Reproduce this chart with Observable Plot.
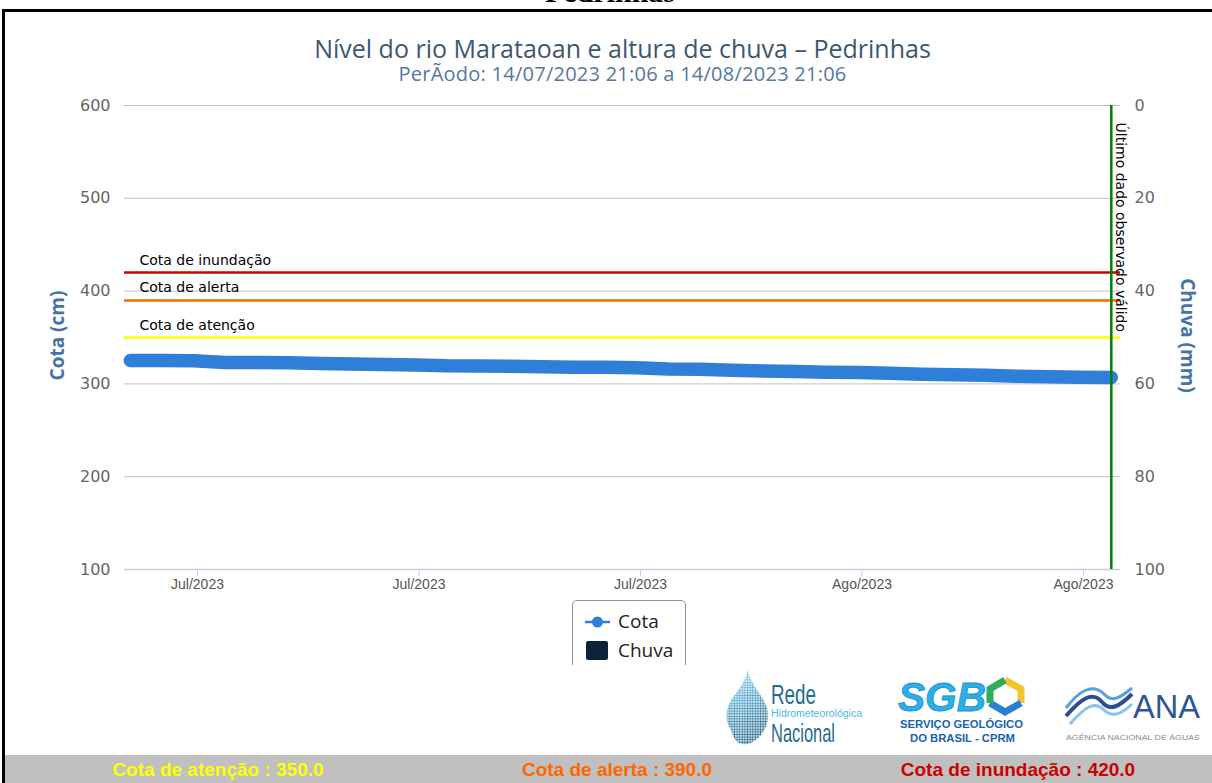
<!DOCTYPE html>
<html>
<head>
<meta charset="utf-8">
<script src="https://cdn.jsdelivr.net/npm/d3@7"></script>
<script src="https://cdn.jsdelivr.net/npm/@observablehq/plot@0.6"></script>
<style>
html,body{margin:0;padding:0;background:#fff;}
#page{position:relative;width:1212px;height:783px;overflow:hidden;font-family:"Open Sans",sans-serif;}
#top{position:absolute;left:0;width:1220px;top:-23px;text-align:center;font:bold 30px/1 "Liberation Serif",serif;color:#000;}
#bTop{position:absolute;left:2px;top:9px;width:1210px;height:3px;background:#000;}
#bLeft{position:absolute;left:2px;top:9px;width:3px;height:774px;background:#000;}
#title{position:absolute;left:0;width:1245px;top:36px;height:24px;text-align:center;font-size:25px;line-height:24px;color:#3E576F;white-space:nowrap;}
#subtitle{position:absolute;left:0;width:1245px;top:65px;height:18px;text-align:center;font-size:20px;line-height:18px;letter-spacing:0.25px;color:#5578A2;white-space:nowrap;}
#chart{position:absolute;left:0;top:90px;}
#legendClip{position:absolute;left:572px;top:600px;width:116px;height:65px;overflow:hidden;}
#legend{position:absolute;left:0;top:0;width:112px;height:90px;border:1px solid #909090;border-radius:5px;background:#fff;}
.li{position:absolute;left:45px;font-size:19px;line-height:1;color:#222;}
#bar{position:absolute;left:5px;top:755px;width:1207px;height:28px;background:#C0C0C0;}
.bt{position:absolute;top:5px;width:400px;margin-left:-200px;text-align:center;font:bold 19px/1 "Liberation Sans",Arial,sans-serif;white-space:nowrap;}
#deco{position:absolute;left:0;top:0;}
</style>
</head>
<body>
<div id="page">
  <div id="top">Pedrinhas</div>
  <div id="bTop"></div>
  <div id="bLeft"></div>
  <div id="title">Nível do rio Marataoan e altura de chuva – Pedrinhas</div>
  <div id="subtitle">PerÃodo: 14/07/2023 21:06 a 14/08/2023 21:06</div>
  <div id="chart"></div>
  <div id="legendClip"><div id="legend">
    <svg width="40" height="80" style="position:absolute;left:0;top:0">
      <line x1="12" y1="21" x2="37" y2="21" stroke="#2F7ED8" stroke-width="2.5"/>
      <circle cx="24.5" cy="21" r="5.5" fill="#2F7ED8"/>
      <rect x="13" y="40" width="22" height="19" rx="2" fill="#0d233a"/>
    </svg>
    <div class="li" style="top:11px">Cota</div>
    <div class="li" style="top:40px">Chuva</div>
  </div></div>
  <svg id="deco" width="1212" height="783">
    <defs>
      <pattern id="dots" width="2.6" height="2.6" patternUnits="userSpaceOnUse">
        <circle cx="1.3" cy="1.3" r="1.05" fill="#fff"/>
      </pattern>
      <linearGradient id="dropg" x1="0" y1="0" x2="0.3" y2="1">
        <stop offset="0" stop-color="#a8def5"/>
        <stop offset="0.45" stop-color="#3f9ec9"/>
        <stop offset="1" stop-color="#17607f"/>
      </linearGradient>
      <mask id="dm"><rect x="700" y="660" width="100" height="100" fill="url(#dots)"/></mask>
    </defs>
    <!-- Rede Hidrometeorológica Nacional -->
    <path d="M748,670 C752,690 770,700 768,718 C766,735 752,746 742,744 C734,742 733,735 730,728 C724,720 726,706 734,696 C740,688 745,680 748,670 Z" fill="url(#dropg)" mask="url(#dm)"/>
    <text x="771" y="704" font-family="Liberation Sans" font-size="27" fill="#1f6c95" textLength="45" lengthAdjust="spacingAndGlyphs">Rede</text>
    <text x="771" y="717" font-family="Liberation Sans" font-size="10" fill="#4ab8e8" textLength="91" lengthAdjust="spacingAndGlyphs">Hidrometeorológica</text>
    <text x="771" y="742" font-family="Liberation Sans" font-size="25" fill="#1f6c95" textLength="64" lengthAdjust="spacingAndGlyphs">Nacional</text>
    <!-- SGB -->
    <text x="898" y="711" font-family="Liberation Sans" font-weight="bold" font-style="italic" font-size="40" fill="#2ab0e6" stroke="#1c8fd0" stroke-width="0.8" textLength="88" lengthAdjust="spacingAndGlyphs">SGB</text>
    <polyline points="1005,680 1021,689 1021,703" fill="none" stroke="#f4c52a" stroke-width="7"/>
    <polyline points="1021,703 1005,712 990,703" fill="none" stroke="#2a7fd0" stroke-width="7"/>
    <polyline points="990,703 990,689 1005,680" fill="none" stroke="#2fae58" stroke-width="7"/>
    <text x="900" y="728" font-family="Liberation Sans" font-weight="bold" font-size="10.5" fill="#1a5fb4" textLength="123" lengthAdjust="spacingAndGlyphs">SERVIÇO GEOLÓGICO</text>
    <text x="910" y="742" font-family="Liberation Sans" font-weight="bold" font-size="10.5" fill="#1a5fb4" textLength="105" lengthAdjust="spacingAndGlyphs">DO BRASIL - CPRM</text>
    <!-- ANA -->
    <path d="M1066,716 C1080,700 1092,690 1102,702 C1110,712 1120,706 1132,694" fill="none" stroke="#2b4f92" stroke-width="4"/>
    <path d="M1066,708 C1078,692 1092,682 1104,694 C1112,703 1120,698 1132,688" fill="none" stroke="#5aa0d8" stroke-width="3"/>
    <path d="M1070,724 C1084,708 1094,700 1104,710 C1112,718 1122,714 1132,704" fill="none" stroke="#8cc3ea" stroke-width="3"/>
    <text x="1133" y="718" font-family="Liberation Sans" font-size="34" fill="#2f5597" textLength="67" lengthAdjust="spacingAndGlyphs">ANA</text>
    <text x="1066" y="740" font-family="Liberation Sans" font-size="8" fill="#8a8a8a" textLength="134" lengthAdjust="spacingAndGlyphs">AGÊNCIA NACIONAL DE ÁGUAS</text>
  </svg>
  <div id="bar">
    <div class="bt" style="left:213px;color:#FFFF00">Cota de atenção : 350.0</div>
    <div class="bt" style="left:612px;color:#FF6600">Cota de alerta : 390.0</div>
    <div class="bt" style="left:1013px;color:#CC0000">Cota de inundação : 420.0</div>
  </div>
</div>
<script>
// ---- data ----
const cotaDates = [
  "2023-07-14T21:06Z","2023-07-15T21:06Z","2023-07-16T21:06Z","2023-07-17T21:06Z",
  "2023-07-18T21:06Z","2023-07-19T21:06Z","2023-07-20T21:06Z","2023-07-21T21:06Z",
  "2023-07-22T21:06Z","2023-07-23T21:06Z","2023-07-24T21:06Z","2023-07-25T21:06Z",
  "2023-07-26T21:06Z","2023-07-27T21:06Z","2023-07-28T21:06Z","2023-07-29T21:06Z",
  "2023-07-30T21:06Z","2023-07-31T21:06Z","2023-08-01T21:06Z","2023-08-02T21:06Z",
  "2023-08-03T21:06Z","2023-08-04T21:06Z","2023-08-05T21:06Z","2023-08-06T21:06Z",
  "2023-08-07T21:06Z","2023-08-08T21:06Z","2023-08-09T21:06Z","2023-08-10T21:06Z",
  "2023-08-11T21:06Z","2023-08-12T21:06Z","2023-08-13T21:06Z","2023-08-14T21:06Z"
];
const cotaValues = [
  325.2, 325.2, 325.0, 323.1, 323.0, 322.8, 322.0, 321.4,
  320.8, 320.5, 319.5, 319.3, 319.0, 318.5, 318.0, 318.0,
  317.5, 316.1, 315.8, 314.8, 313.9, 313.4, 312.5, 312.2,
  311.5, 310.5, 309.8, 309.2, 308.3, 307.8, 307.3, 306.9
];
const chuvaValues = [
  0,0,0,0,0,0,0,0, 0,0,0,0,0,0,0,0,
  0,0,0,0,0,0,0,0, 0,0,0,0,0,0,0,0
];
const cotaTicks = [100, 200, 300, 400, 500, 600];
const chuvaTicks = [0, 20, 40, 60, 80, 100];
const xTickDates = ["2023-07-17T00:00Z","2023-07-24T00:00Z","2023-07-31T00:00Z","2023-08-07T00:00Z","2023-08-14T00:00Z"];
const monthNames = ["Jan","Fev","Mar","Abr","Mai","Jun","Jul","Ago","Set","Out","Nov","Dez"];
const thresholdLabels = ["Cota de atenção", "Cota de alerta", "Cota de inundação"];
const thresholdValues = [350, 390, 420];
const thresholdColors = ["#FFFF00", "#FF6600", "#CC0000"];
const lastValidDate = "2023-08-14T21:06Z";
const lastValidLabel = "Último dado observado válido";
const xDomain = ["2023-07-14T16:38Z", "2023-08-15T04:04Z"];
const cotaDomain = [100, 600];
const chuvaDomain = [0, 100];

// ---- helpers (right axis is reversed chuva mapped onto the cota scale) ----
const k = (cotaDomain[1] - cotaDomain[0]) / (chuvaDomain[1] - chuvaDomain[0]);
const chuvaToCota = r => cotaDomain[1] - (r - chuvaDomain[0]) * k;
const cotaToChuva = v => Math.round((cotaDomain[1] - v) / k + chuvaDomain[0]);

const data = cotaDates.map((d, i) => ({date: new Date(d), cota: cotaValues[i], chuva: chuvaValues[i]}));

const thresholdMarks = thresholdValues.map((v, i) =>
  Plot.ruleY([v], {stroke: thresholdColors[i], strokeWidth: 2.5})
);

const chart = Plot.plot({
  width: 1212,
  height: 510,
  marginTop: 15,
  marginBottom: 31,
  marginLeft: 124,
  marginRight: 92,
  style: {background: "transparent", fontFamily: "'DejaVu Sans', sans-serif", overflow: "visible"},
  x: {type: "utc", domain: xDomain.map(d => new Date(d))},
  y: {domain: cotaDomain},
  marks: [
    Plot.gridY(cotaTicks, {stroke: "#C0C0C0", strokeOpacity: 1}),
    Plot.ruleY([cotaDomain[0]], {stroke: "#C0D0E0", strokeWidth: 1.5}),
    Plot.axisX(xTickDates.map(d => new Date(d)), {
      tickSize: 7, tickPadding: 3, stroke: "#C0D0E0", fill: "#555",
      fontSize: 14, fontFamily: "'Liberation Sans', Arial, sans-serif",
      tickFormat: d => monthNames[d.getUTCMonth()] + "/" + d.getUTCFullYear(),
      label: null
    }),
    Plot.axisY(cotaTicks, {anchor: "left", tickSize: 0, tickPadding: 14, fill: "#666", fontSize: 16, label: null}),
    Plot.axisY(chuvaTicks.map(chuvaToCota), {
      anchor: "right", tickSize: 0, tickPadding: 14, fill: "#666", fontSize: 16,
      tickFormat: v => String(cotaToChuva(v)), label: null
    }),
    Plot.text(["Cota (cm)"], {frameAnchor: "left", textAnchor: "middle", dx: -67, dy: -2, rotate: -90, fill: "#4572A7", fontWeight: "bold", fontSize: 19, fontFamily: "'Open Sans', sans-serif"}),
    Plot.text(["Chuva (mm)"], {frameAnchor: "right", textAnchor: "middle", dx: 67, dy: -2, rotate: 90, fill: "#4572A7", fontWeight: "bold", fontSize: 19, fontFamily: "'Open Sans', sans-serif"}),
    Plot.rect(data, {
      x1: "date", x2: d => d3.utcHour.offset(d.date, 12),
      y1: () => chuvaToCota(0), y2: d => chuvaToCota(d.chuva), fill: "#0d233a"
    }),
    ...thresholdMarks,
    Plot.text(thresholdLabels, {
      y: (d, i) => thresholdValues[i], frameAnchor: "left", textAnchor: "start", lineAnchor: "bottom",
      dx: 15, dy: -8, fontSize: 14, fill: "#000"
    }),
    Plot.line(data, {x: "date", y: "cota", stroke: "#2F7ED8", strokeWidth: 13.5, strokeLinecap: "round", strokeLinejoin: "round"}),
    Plot.ruleX([new Date(lastValidDate)], {stroke: "#008000", strokeWidth: 2.5}),
    Plot.text([lastValidLabel], {
      x: () => new Date(lastValidDate), y: () => cotaDomain[1], rotate: 90,
      textAnchor: "start", lineAnchor: "bottom", dx: 5, dy: 17, fontSize: 14, fill: "#000"
    })
  ]
});
document.getElementById("chart").appendChild(chart);
</script>
</body>
</html>
